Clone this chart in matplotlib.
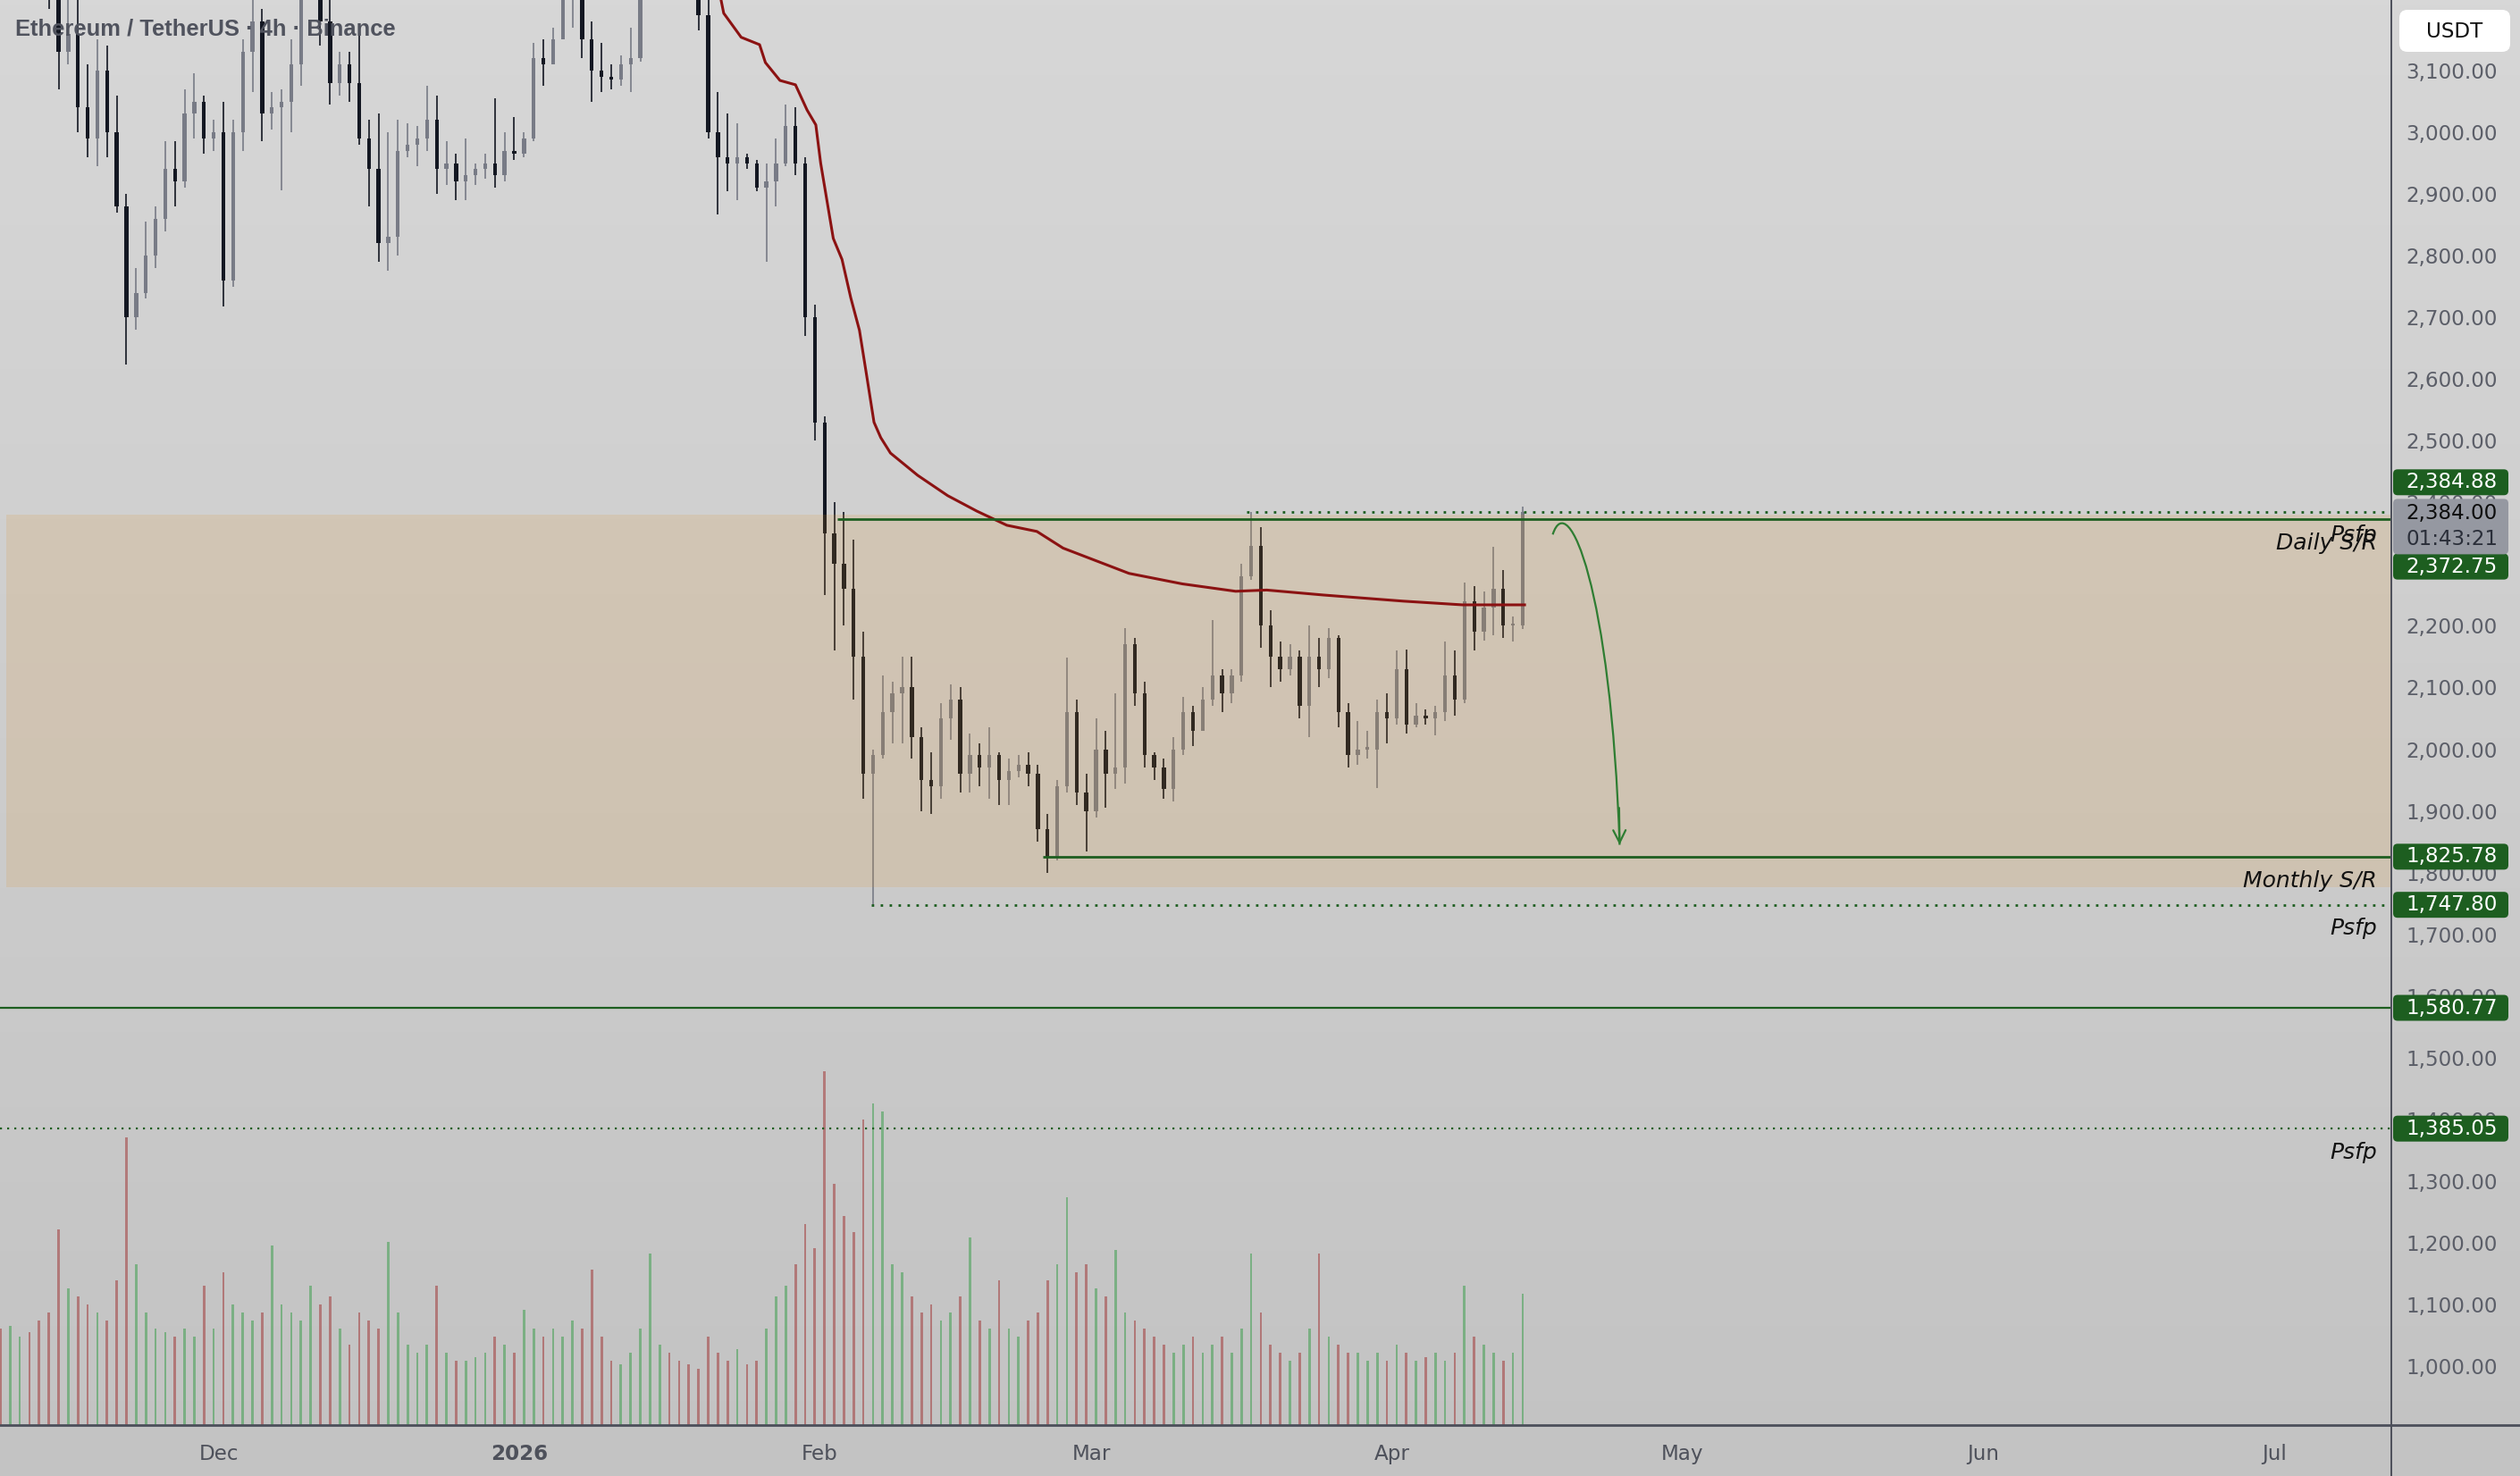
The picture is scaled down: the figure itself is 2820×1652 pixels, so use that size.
import matplotlib.pyplot as plt
import matplotlib.dates as mdates
from matplotlib.patches import FancyBboxPatch, PathPatch
from matplotlib.path import Path
from matplotlib.lines import Line2D
from matplotlib.transforms import IdentityTransform
import numpy as np
import pandas as pd

# daily candles 8 Nov 2025 .. 14 Apr 2026 (values above ~3215 are off-screen guesses)
opens = [3420, 3400, 3420, 3440, 3320, 3300, 3230, 3130, 3160, 3040,
         2990, 3100, 3000, 2880, 2700, 2740, 2800, 2860, 2940, 2920,
         3030, 3050, 2990, 3000, 2760, 3000, 3130, 3180, 3030, 3040,
         3050, 3110, 3230, 3350, 3180, 3080, 3110, 3080, 2990, 2940,
         2820, 2830, 2970, 2980, 2990, 3020, 2940, 2950, 2920, 2930,
         2940, 2950, 2930, 2970, 2965, 2990, 3120, 3110, 3150, 3230,
         3240, 3150, 3100, 3090, 3085, 3110, 3120, 3280, 3350, 3370,
         3320, 3300, 3290, 3190, 3000, 2960, 2950, 2960, 2950, 2910,
         2920, 2950, 3010, 2950, 2700, 2530, 2350, 2300, 2260, 2150,
         1960, 1990, 2060, 2090, 2100, 2020, 1950, 1940, 2050, 2080,
         1960, 1990, 1970, 1990, 1950, 1965, 1975, 1960, 1870, 1825,
         1940, 2060, 1930, 1900, 2000, 1960, 1970, 2170, 2090, 1990,
         1970, 1935, 2000, 2060, 2030, 2080, 2120, 2090, 2120, 2280,
         2330, 2200, 2150, 2130, 2150, 2070, 2150, 2130, 2180, 2060,
         1990, 2000, 2000, 2060, 2050, 2130, 2040, 2055, 2050, 2060,
         2120, 2080, 2240, 2190, 2230, 2260, 2200, 2200]
highs = [3480, 3460, 3500, 3480, 3380, 3360, 3280, 3220, 3215, 3110,
         3150, 3140, 3060, 2900, 2780, 2855, 2880, 2985, 2985, 3070,
         3096, 3060, 3020, 3050, 3020, 3150, 3240, 3200, 3065, 3070,
         3150, 3250, 3420, 3400, 3240, 3130, 3130, 3160, 3020, 3030,
         3000, 3020, 3015, 3010, 3075, 3060, 2985, 2965, 2990, 2950,
         2965, 3055, 3000, 3025, 3000, 3145, 3150, 3170, 3260, 3300,
         3280, 3180, 3145, 3110, 3125, 3170, 3300, 3400, 3420, 3400,
         3350, 3340, 3300, 3220, 3065, 3030, 3015, 2965, 2955, 2950,
         2990, 3045, 3040, 2960, 2720, 2540, 2400, 2385, 2340, 2190,
         2000, 2120, 2110, 2150, 2150, 2035, 1995, 2075, 2105, 2100,
         2025, 2010, 2035, 1995, 1985, 1990, 1995, 1975, 1895, 1950,
         2148, 2080, 1960, 2050, 2030, 2090, 2196, 2180, 2110, 1995,
         1985, 2020, 2085, 2070, 2100, 2210, 2130, 2130, 2300, 2385,
         2360, 2225, 2175, 2170, 2160, 2200, 2180, 2196, 2185, 2075,
         2045, 2030, 2080, 2090, 2160, 2162, 2075, 2065, 2070, 2175,
         2160, 2270, 2265, 2255, 2328, 2290, 2215, 2393]
lows = [3360, 3330, 3380, 3300, 3280, 3200, 3070, 3110, 3000, 2960,
        2945, 2960, 2870, 2623, 2680, 2730, 2780, 2840, 2880, 2910,
        2990, 2965, 2970, 2718, 2750, 2970, 3065, 2985, 3005, 2906,
        3000, 3075, 3220, 3140, 3045, 3060, 3050, 2980, 2880, 2790,
        2775, 2800, 2960, 2945, 2970, 2900, 2915, 2890, 2890, 2915,
        2925, 2910, 2920, 2955, 2960, 2985, 3075, 3110, 3150, 3170,
        3120, 3050, 3065, 3070, 3075, 3065, 3115, 3260, 3300, 3280,
        3260, 3250, 3165, 2990, 2867, 2905, 2890, 2940, 2905, 2790,
        2880, 2945, 2930, 2670, 2500, 2250, 2160, 2200, 2080, 1920,
        1748, 1985, 2010, 2010, 1985, 1900, 1895, 1920, 2015, 1930,
        1930, 1940, 1920, 1910, 1910, 1955, 1940, 1850, 1800, 1820,
        1930, 1910, 1834, 1890, 1905, 1935, 1945, 2070, 1970, 1950,
        1920, 1915, 1990, 2005, 2030, 2070, 2060, 2075, 2110, 2275,
        2165, 2100, 2110, 2120, 2050, 2020, 2100, 2115, 2035, 1970,
        1975, 1985, 1937, 2010, 2040, 2025, 2035, 2040, 2023, 2045,
        2055, 2075, 2160, 2176, 2185, 2180, 2175, 2195]
closes = [3400, 3420, 3440, 3320, 3300, 3230, 3130, 3160, 3040, 2990,
          3100, 3000, 2880, 2700, 2740, 2800, 2860, 2940, 2920, 3030,
          3050, 2990, 3000, 2760, 3000, 3130, 3180, 3030, 3040, 3050,
          3110, 3230, 3350, 3180, 3080, 3110, 3080, 2990, 2940, 2820,
          2830, 2970, 2980, 2990, 3020, 2940, 2950, 2920, 2930, 2940,
          2950, 2930, 2970, 2965, 2990, 3120, 3110, 3150, 3230, 3240,
          3150, 3100, 3090, 3085, 3110, 3120, 3280, 3350, 3370, 3320,
          3300, 3290, 3190, 3000, 2960, 2950, 2960, 2950, 2910, 2920,
          2950, 3010, 2950, 2700, 2530, 2350, 2300, 2260, 2150, 1960,
          1990, 2060, 2090, 2100, 2020, 1950, 1940, 2050, 2080, 1960,
          1990, 1970, 1990, 1950, 1965, 1975, 1960, 1870, 1825, 1940,
          2060, 1930, 1900, 2000, 1960, 1970, 2170, 2090, 1990, 1970,
          1935, 2000, 2060, 2030, 2080, 2120, 2090, 2120, 2280, 2330,
          2200, 2150, 2130, 2150, 2070, 2150, 2130, 2180, 2060, 1990,
          2000, 2000, 2060, 2050, 2130, 2040, 2055, 2050, 2060, 2120,
          2080, 2240, 2190, 2230, 2260, 2200, 2200, 2384]
volumes = [60, 62, 55, 58, 65, 70, 122, 85, 80, 75,
           70, 65, 90, 179, 100, 70, 60, 58, 55, 60,
           55, 87, 60, 95, 75, 70, 65, 70, 112, 75,
           70, 65, 87, 75, 80, 60, 50, 70, 65, 60,
           114, 70, 50, 45, 50, 87, 45, 40, 40, 42,
           45, 55, 50, 45, 72, 60, 55, 60, 55, 65,
           60, 97, 55, 40, 38, 45, 60, 107, 50, 45,
           40, 38, 35, 55, 45, 40, 47, 38, 40, 60,
           80, 87, 100, 125, 110, 220, 150, 130, 120, 190,
           200, 195, 100, 95, 80, 70, 75, 65, 70, 80,
           117, 65, 60, 90, 60, 55, 65, 70, 90, 100,
           142, 95, 100, 85, 80, 109, 70, 65, 60, 55,
           50, 45, 50, 55, 45, 50, 55, 45, 60, 107,
           70, 50, 45, 40, 45, 60, 107, 55, 50, 45,
           45, 40, 45, 40, 50, 45, 40, 42, 45, 40,
           45, 87, 55, 50, 45, 40, 45, 82]

# moving average (red line): days after 1 Dec 2025 and values
ema_days = [51.5, 52.1, 53.9, 55.8, 56.4, 57.9, 59.5, 60.7, 61.6, 62.1, 63.4, 64.3,
            65.2, 66.1, 66.9, 67.6, 68.3, 69.3, 72.1, 75.2, 78.2, 81.3, 84.4, 87.1,
            93.9, 99.4, 104.9, 108.1, 113.9, 122.2, 128.3, 134.7]
ema_vals = [3240, 3193, 3154, 3142, 3113, 3084, 3077, 3036, 3012, 2950, 2828, 2794,
            2732, 2679, 2600, 2530, 2505, 2480, 2444, 2411, 2386, 2363, 2353, 2326,
            2285, 2268, 2256, 2258, 2250, 2240, 2234, 2234]

# drawn levels
level_prices = [2372.75, 2384.88, 1825.78, 1747.80, 1580.77, 1385.05]
level_starts = ['2026-02-02 19:00', '2026-03-17 01:00', '2026-02-24 01:00',
                '2026-02-06 07:00', None, None]
level_dotted = [False, True, False, True, False, True]
label_texts = ['Daily S/R', 'Psfp', 'Monthly S/R', 'Psfp', 'Psfp']
label_levels = [2372.75, 2384.88, 1825.78, 1747.80, 1385.05]
zone_start, zone_low, zone_high = '2025-11-09 02:00', 1776, 2380
box_prices = [2384.88, 2372.75, 1825.78, 1747.80, 1580.77, 1385.05]
box_shift = [-33, 53, 0, 0, 0, 0]
last_price, countdown = 2384.00, '01:43:21'
arrow_days = [137.6, 139.2, 143.6, 144.5]
arrow_prices = [2348, 2425, 2260, 1845]

month_ticks = ['2025-12-01', '2026-01-01', '2026-02-01', '2026-03-01',
               '2026-04-01', '2026-05-01', '2026-06-01', '2026-07-01']
month_labels = ['Dec', '2026', 'Feb', 'Mar', 'Apr', 'May', 'Jun', 'Jul']

W, H = 2820, 1652
UP, DOWN = '#787b86', '#131722'
GREEN = '#1d5e20'
AXCOL = '#4c4f5a'
TXT = '#5b5e68'

fig = plt.figure(figsize=(W / 200, H / 200), dpi=200)

# background gradient
bg = fig.add_axes([0, 0, 1, 1], zorder=-10)
t = np.linspace(0, 1, 256)[:, None]
top, bot = np.array([215, 215, 215]) / 255, np.array([195, 195, 195]) / 255
img = (top * (1 - t) + bot * t)[:, None, :]
bg.imshow(img, aspect='auto', extent=[0, 1, 0, 1])
bg.axis('off')

ax = fig.add_axes([0, 57 / H, 2676 / W, 1595 / H])
ax.patch.set_visible(False)
base = mdates.date2num(pd.Timestamp('2025-12-01'))
ax.set_xlim(base - 22.54, base + 224.09)
ax.set_ylim(904.5, 3214.4)

dates = pd.date_range('2025-11-08', periods=len(closes), freq='D') + pd.Timedelta(hours=12)
x = mdates.date2num(dates)
o, h, l, c = map(np.array, (opens, highs, lows, closes))
up = c >= o
ccol = np.where(up, UP, DOWN)

# volume on its own scale
axv = ax.twinx()
axv.set_zorder(ax.get_zorder() - 1)
axv.set_ylim(0, 887)
vcol = np.where(up, '#3f9f4f', '#a23b3b')
axv.bar(x, volumes, width=0.25, color=vcol, alpha=0.55, linewidth=0)
axv.axis('off')

ax.vlines(x, l, h, colors=ccol, lw=0.6, zorder=3)
ax.bar(x, np.maximum(np.abs(c - o), 4), bottom=np.minimum(o, c), width=0.4,
       color=ccol, linewidth=0, zorder=3)

# zone
zx0 = mdates.date2num(pd.Timestamp(zone_start))
ax.fill_between([zx0, base + 300], zone_low, zone_high, color='#e2901f', alpha=0.15,
                linewidth=0, zorder=4)

ax.plot(base + np.array(ema_days), ema_vals, color='#8b1212', lw=1.1, zorder=5)

for p, s, dot in zip(level_prices, level_starts, level_dotted):
    ls = (0, (1, 2.6)) if dot else '-'
    if s is None:
        ax.axhline(p, color=GREEN, lw=0.8, ls=ls, zorder=6)
    else:
        ax.hlines(p, mdates.date2num(pd.Timestamp(s)), base + 300, color=GREEN,
                  lw=1.0, ls=ls, zorder=6)

for txt, p in zip(label_texts, label_levels):
    ax.annotate(txt, xy=(0.994, p), xycoords=('axes fraction', 'data'),
                xytext=(0, -9.6), textcoords='offset points', ha='right', va='center',
                style='italic', fontsize=9, color='#121212', zorder=7)

# projected move
verts = [(base + d, p) for d, p in zip(arrow_days, arrow_prices)]
ax.add_patch(PathPatch(Path(verts, [Path.MOVETO, Path.CURVE4, Path.CURVE4, Path.CURVE4]),
                       fc='none', ec='#2e7d32', lw=0.8, zorder=7))
ax.annotate('', xy=verts[-1], xytext=(verts[-1][0] - 0.05, verts[-1][1] + 60),
            arrowprops=dict(arrowstyle='->,head_length=0.5,head_width=0.25',
                            color='#2e7d32', lw=0.8, shrinkA=0, shrinkB=0), zorder=7)

# axes
for sp in ax.spines.values():
    sp.set_visible(False)
ax.yaxis.tick_right()
yt = list(range(1000, 3200, 100))
ax.set_yticks(yt)
ax.set_yticklabels([f'{v:,.2f}' for v in yt])
ax.tick_params(axis='y', length=0, pad=5.8, labelsize=8.3, labelcolor=TXT)
ax.set_xticks([mdates.date2num(pd.Timestamp(m)) for m in month_ticks])
ax.set_xticklabels(month_labels)
ax.tick_params(axis='x', length=0, pad=7.5, labelsize=8.3, labelcolor='#4e515b')
ax.get_xticklabels()[1].set_fontweight('bold')

fig.add_artist(Line2D([0, 1], [57 / H, 57 / H], color=AXCOL, lw=1.0))
fig.add_artist(Line2D([2676 / W, 2676 / W], [0, 1], color=AXCOL, lw=0.7))

# price boxes on the scale
def box(yc, hgt, fc):
    fig.add_artist(FancyBboxPatch((2678, yc - hgt / 2), 129, hgt,
                                  boxstyle='round,pad=0,rounding_size=5',
                                  transform=IdentityTransform(), fc=fc, ec='none',
                                  zorder=20))

for p, s in zip(box_prices, box_shift):
    yc = ax.transData.transform((base, p))[1] - s
    box(yc, 29, GREEN)
    fig.text(2692 / W, yc / H, f'{p:,.2f}', color='white', fontsize=8.3,
             va='center', ha='left', zorder=21)

yc = ax.transData.transform((base, last_price))[1] - 16
box(yc, 62, '#9598a1')
fig.text(2692 / W, (yc + 15) / H, f'{last_price:,.2f}', color='#0d0d0d', fontsize=8.3,
         va='center', ha='left', zorder=21)
fig.text(2692 / W, (yc - 14) / H, countdown, color='#2a2e39', fontsize=8.3,
         va='center', ha='left', zorder=21)

fig.add_artist(FancyBboxPatch((2685, H - 58), 124, 47, boxstyle='round,pad=0,rounding_size=9',
                              transform=IdentityTransform(), fc='white', ec='none', zorder=20))
fig.text(2747 / W, 1 - 35 / H, 'USDT', color='#111111', fontsize=8.3, ha='center',
         va='center', zorder=21)

fig.text(17 / W, 1 - 32 / H, 'Ethereum / TetherUS · 4h · Binance', va='center', ha='left',
         fontsize=9.2, fontweight='bold', color='#50535e',
         family=['Liberation Sans', 'DejaVu Sans'])

fig.savefig('out.png', dpi=200)
